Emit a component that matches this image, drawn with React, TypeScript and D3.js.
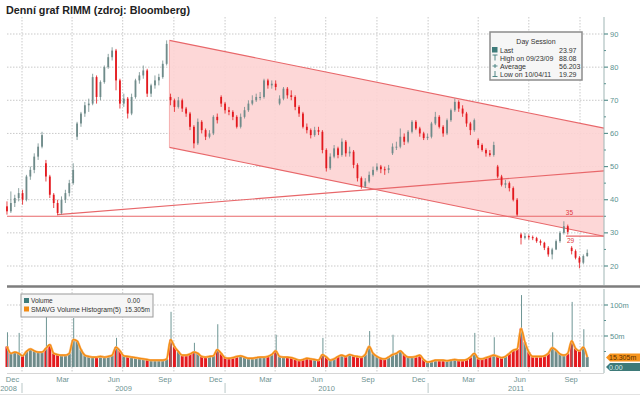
import * as d3 from "d3";

// weekly bars, first bar is the week ending 2008-12-05
const firstWeek = "2008-12-05";

const weekClose = [
  36.5, 39, 40.5, 42, 40, 47, 49, 53, 56, 59.5,
  47, 41.5, 39, 36, 40, 42, 45, 49, 63, 66,
  68.5, 69, 77, 71, 75.5, 80, 83, 85, 76, 69,
  70.5, 66, 71, 76, 77.5, 79, 72, 74.5, 76, 77,
  81, 87, 70, 68, 70, 67.5, 66, 62, 57, 63.5,
  61, 59, 60, 65, 64, 69, 67, 66.5, 65, 62,
  65, 67, 69, 70, 71, 71, 76, 74.5, 75, 74,
  70.5, 73.5, 71.5, 71, 68, 66, 62, 61, 59.5, 61,
  60.5, 55, 49.5, 53, 55.5, 53.5, 57.5, 54, 54.5, 50.5,
  46.5, 44, 45.5, 47.5, 49, 50, 49.2, 49, 49.5, 56,
  56, 59, 57.5, 60.5, 63.5, 61.5, 60, 58.6, 59, 63,
  65, 62, 60, 64, 67, 69.5, 67.5, 66, 63, 61,
  64, 56.5, 55, 54, 53.5, 56.5, 47, 44.5, 45, 43.5,
  40, 35.5, 28.5, 29, 28.7, 28.4, 27.5, 27, 25.5, 23.5,
  25, 27.5, 30, 32, 30.3, 24.5, 22.5, 21, 23, 23.97,
];

const weekHigh = [
  39.5, 42.5, 41.5, 43.5, 43, 47.5, 50, 54, 57, 60.5,
  52, 47.5, 42, 40, 41, 43, 46, 51, 63.5, 66.5,
  69.5, 70.5, 78, 77.5, 76, 80.5, 84, 86, 85.5, 76.5,
  72, 71, 72, 76.5, 78.5, 80.5, 79.5, 75, 77.5, 78,
  82, 88.08, 72, 70.5, 71, 70.5, 68, 66.5, 62.5, 64.5,
  64, 61.5, 61, 65.5, 66, 71.5, 69.5, 68, 67, 65.5,
  66, 68, 70, 71.5, 72, 72.5, 76.5, 76.5, 76, 76,
  71.5, 74, 74, 73, 71.5, 68.5, 66.5, 63, 61.5, 62,
  62, 61, 55.5, 54, 56.5, 56, 58.5, 58, 56, 55,
  51, 47, 46.5, 48.5, 50, 51, 50.5, 50, 50.5, 57,
  57.5, 61.5, 60, 61, 64, 64, 62, 60.5, 60, 63.5,
  66.5, 65.5, 62.5, 64.5, 67.5, 70.5, 70, 68.5, 66.5, 63.5,
  64.5, 58.5, 57, 55.5, 55, 57.5, 50.5, 47.5, 46, 45.5,
  44, 40.5, 30, 30, 29.5, 29.2, 28.8, 28, 27.3, 26,
  25.5, 28, 30.5, 33.5, 32.5, 26, 25, 23, 23.5, 25,
];

const weekLow = [
  35.5, 36, 37.8, 39.5, 38.5, 39.5, 46, 48, 52, 55.5,
  45.5, 40.5, 37.5, 35.3, 35.5, 39, 41, 44.5, 58, 62,
  65, 66.5, 68.5, 69, 70, 75, 79.5, 82, 73, 67.5,
  68, 64.5, 65.5, 70.5, 75, 76.5, 71, 71, 73.5, 74.5,
  76.5, 80.5, 68.5, 66.5, 67.5, 66.5, 65, 61, 55.5, 56.5,
  60, 58, 58.5, 59.5, 63, 68, 66, 65.5, 64, 61.5,
  61.5, 64.5, 66.5, 68.5, 69.5, 70, 70.5, 73.5, 73.5, 73,
  68.5, 70, 70.5, 70, 67, 65, 61.5, 60, 58.5, 59,
  59.5, 54, 48.5, 49, 52.5, 52.5, 53, 53, 53, 49.5,
  45.5, 43.3, 43.5, 45, 47, 48.5, 48, 47.5, 48, 53.5,
  55, 55.5, 56.5, 57, 60, 61, 59, 58, 58, 58.5,
  62.5, 61.5, 59, 59.5, 63.5, 66.5, 66.5, 65, 62, 59.5,
  60.5, 55.5, 54.5, 53, 53, 53, 46.5, 44, 43.5, 42.5,
  39.5, 35, 26.5, 28, 28, 27.8, 27, 26.2, 24.8, 22.8,
  22, 24.8, 27, 29.5, 29.5, 23.5, 22, 19.29, 20.5, 22.8,
];

// weeks that opened with a gap: [week index, open]
const gapOpens: [number, number][] = [
  [0, 38], [10, 51], [18, 59], [42, 71], [55, 71], [70, 69],
  [99, 54], [121, 58], [126, 50], [132, 29.5], [145, 25.5],
];

// volume, millions (weekly level)
const weekVolume = [
  33, 22, 24, 22, 18, 25, 29, 26, 24, 24,
  30, 36, 22, 20, 19, 19, 22, 44, 42, 28,
  19, 17, 16, 16, 17, 16, 17, 19, 32, 26,
  18, 17, 16, 15, 14, 13, 12, 11, 11, 11,
  11, 13, 44, 33, 25, 19, 19, 21, 24, 22,
  17, 16, 17, 18, 28, 22, 15, 14, 15, 17,
  18, 16, 14, 14, 15, 16, 16, 17, 20, 26,
  17, 16, 16, 15, 13, 11, 12, 14, 13, 12,
  11, 20, 16, 11, 13, 17, 19, 17, 20, 18,
  17, 16, 20, 33, 22, 17, 14, 13, 16, 20,
  22, 26, 20, 16, 16, 17, 19, 12, 8, 9,
  11, 11, 11, 10, 11, 12, 11, 11, 12, 16,
  22, 14, 13, 15, 17, 19, 17, 15, 17, 22,
  27, 29, 62, 40, 24, 17, 17, 17, 18, 22,
  31, 27, 21, 19, 22, 42, 30, 26, 32, 16,
];

// single-day volume spikes: [week index, millions]
const volumeSpikes: [number, number][] = [
  [0, 56], [3, 55], [10, 85], [17, 79], [28, 47], [42, 89], [48, 39],
  [54, 69], [69, 52], [81, 47], [93, 58], [99, 52], [120, 55], [125, 48],
  [132, 116], [140, 56], [145, 105], [148, 61],
];

const channelUpper: [string, number][] = [["2009-09-23", 88.08], ["2011-11-13", 61.6]];
const channelLower: [string, number][] = [["2009-09-23", 55.8], ["2011-11-13", 29]];
const supportLine: [string, number][] = [["2009-03-06", 35.5], ["2011-11-13", 48.7]];
const levelLines = [
  { value: 35, from: "2008-12-05", label: "35", labelAt: "2011-09-12", dy: -1.5 },
  { value: 29, from: "2011-09-06", label: "29", labelAt: "2011-09-14", dy: 6.5 },
];

const priceTicks = [20, 30, 40, 50, 60, 70, 80, 90];
const priceMinor = [25, 35, 45, 55, 65, 75, 85];
const volumeTicks = [50, 100];
const quarterLines = [
  "2009-01-01", "2009-04-01", "2009-07-01", "2009-10-01",
  "2010-01-01", "2010-04-01", "2010-07-01", "2010-10-01",
  "2011-01-01", "2011-04-01", "2011-07-01", "2011-10-01",
];
const monthLabels: [string, string][] = [
  ["2008-12-15", "Dec"], ["2009-03-15", "Mar"], ["2009-06-15", "Jun"], ["2009-09-15", "Sep"],
  ["2009-12-15", "Dec"], ["2010-03-15", "Mar"], ["2010-06-15", "Jun"], ["2010-09-15", "Sep"],
  ["2010-12-15", "Dec"], ["2011-03-15", "Mar"], ["2011-06-15", "Jun"], ["2011-09-15", "Sep"],
];
const yearStarts = ["2009-01-01", "2010-01-01", "2011-01-01"];
const yearLabels = ["2008", "2009", "2010", "2011"];

const sessionRows = [
  { icon: "square", label: "Last", value: "23.97" },
  { icon: "high", label: "High on 09/23/09", value: "88.08" },
  { icon: "avg", label: "Average", value: "56.203" },
  { icon: "low", label: "Low on 10/04/11", value: "19.29" },
];

const RED = "#e3191e";
const UP = "#6f8b8a";
const TEAL = "#3f7c7b";
const AXIS_TXT = "#5b9290";
const GRID = "#c9c9c9";
const FONT = "'Liberation Sans', Arial, sans-serif";

const parse = d3.timeParse("%Y-%m-%d");
const p = (s: string) => parse(s) as Date;

export default function App() {
  const left = 7;
  const right = 604;
  const x = d3.scaleTime().domain([p("2009-01-01"), p("2011-10-01")]).range([22, 580]);
  const y = d3.scaleLinear().domain([20, 90]).range([266, 34]);
  const yv = d3.scaleLinear().domain([0, 100]).range([367, 305]);

  const weeks = weekClose.map((close, i) => {
    const gap = gapOpens.find((g) => g[0] === i);
    const open = gap ? gap[1] : weekClose[i - 1];
    return {
      date: d3.timeDay.offset(p(firstWeek), 7 * i),
      open,
      close,
      high: weekHigh[i],
      low: weekLow[i],
      vol: weekVolume[i],
    };
  });

  const lineXY = (pts: [string, number][]) => pts.map(([d, v]) => [x(p(d)), y(v)] as [number, number]);
  const up = lineXY(channelUpper);
  const lo = lineXY(channelLower);
  const channelPoly = [up[0], up[1], lo[1], lo[0]].map((q) => q.join(",")).join(" ");
  const sup = lineXY(supportLine);

  const smaLine = d3
    .line<(typeof weeks)[number]>()
    .x((d) => x(d.date))
    .y((d) => yv(d.vol))
    .curve(d3.curveMonotoneX);

  const yearBounds = [left - 12, ...yearStarts.map((s) => x(p(s))), right];

  return (
    <svg
      width={640}
      height={395}
      style={{ position: "absolute", left: 0, top: 0, background: "#fff", fontFamily: FONT }}
    >
      <text x={6} y={14} fontSize={11} fontWeight="bold" fill="#222" textLength={184} lengthAdjust="spacingAndGlyphs">
        Denní graf RIMM (zdroj: Bloomberg)
      </text>

      {/* grid */}
      {priceTicks.map((t) => (
        <line key={"hg" + t} x1={left} x2={right} y1={y(t)} y2={y(t)} stroke={GRID} strokeDasharray="1.5,1.5" />
      ))}
      {volumeTicks.map((t) => (
        <line key={"vg" + t} x1={left} x2={right} y1={yv(t)} y2={yv(t)} stroke={GRID} strokeDasharray="1.5,1.5" />
      ))}
      {quarterLines.map((q) => (
        <g key={"q" + q}>
          <line x1={x(p(q))} x2={x(p(q))} y1={17} y2={285} stroke={GRID} strokeDasharray="1.5,1.5" />
          <line x1={x(p(q))} x2={x(p(q))} y1={289} y2={373} stroke={GRID} strokeDasharray="1.5,1.5" />
        </g>
      ))}

      {/* trend channel */}
      <polygon points={channelPoly} fill="#fdd3d3" fillOpacity={0.9} />
      <line x1={up[0][0]} y1={up[0][1]} x2={up[1][0]} y2={up[1][1]} stroke="#e8676a" strokeWidth={1.1} />
      <line x1={lo[0][0]} y1={lo[0][1]} x2={lo[1][0]} y2={lo[1][1]} stroke="#e8676a" strokeWidth={1.1} />
      <line x1={up[0][0]} y1={up[0][1]} x2={lo[0][0]} y2={lo[0][1]} stroke="#f2a0a0" strokeWidth={0.8} />
      <line x1={sup[0][0]} y1={sup[0][1]} x2={sup[1][0]} y2={sup[1][1]} stroke="#e8676a" strokeWidth={1.1} />
      {levelLines.map((l) => (
        <g key={"lv" + l.value}>
          <line x1={x(p(l.from))} x2={right} y1={y(l.value)} y2={y(l.value)} stroke="#e8676a" strokeWidth={1.1} />
          <text x={x(p(l.labelAt))} y={y(l.value) + l.dy} fontSize={6.5} fill="#e0383c" textAnchor="middle">
            {l.label}
          </text>
        </g>
      ))}

      {/* price bars */}
      {weeks.map((w, i) => {
        const cx = x(w.date);
        const col = w.close >= w.open ? UP : RED;
        const top = y(Math.max(w.open, w.close));
        const bot = y(Math.min(w.open, w.close));
        return (
          <g key={"b" + i}>
            <line x1={cx} x2={cx} y1={y(w.high)} y2={y(w.low)} stroke={col} strokeWidth={0.8} />
            <rect x={cx - 0.9} y={top} width={1.8} height={Math.max(1, bot - top)} fill={col} />
          </g>
        );
      })}

      {/* right price axis */}
      <line x1={right} x2={right} y1={17} y2={285} stroke="#9fb5b4" />
      {priceTicks.map((t) => (
        <g key={"pt" + t}>
          <line x1={right} x2={right + 4} y1={y(t)} y2={y(t)} stroke={AXIS_TXT} strokeWidth={1.2} />
          <text x={right + 6} y={y(t) + 2.5} fontSize={7.5} fill={AXIS_TXT}>
            {t}
          </text>
        </g>
      ))}
      {priceMinor.map((t) => (
        <line key={"pm" + t} x1={right} x2={right + 2} y1={y(t)} y2={y(t)} stroke={AXIS_TXT} />
      ))}

      {/* Day Session legend */}
      <g>
        <rect x={490} y={32} width={92} height={48} fill="#f6f6f6" stroke="#8c8c8c" strokeWidth={1.5} />
        <text x={536} y={44} fontSize={7} textAnchor="middle" fill="#333">
          Day Session
        </text>
        {sessionRows.map((r, i) => {
          const cy = 50 + i * 8;
          return (
            <g key={r.label}>
              {r.icon === "square" && <rect x={492} y={cy - 3} width={5.5} height={5.5} fill={TEAL} />}
              {r.icon === "high" && (
                <g stroke={TEAL} strokeWidth={0.9}>
                  <line x1={492.5} x2={497.5} y1={cy - 3} y2={cy - 3} />
                  <line x1={495} x2={495} y1={cy - 3} y2={cy + 2.5} />
                </g>
              )}
              {r.icon === "avg" && (
                <g stroke={TEAL} strokeWidth={0.9}>
                  <line x1={492.5} x2={497.5} y1={cy} y2={cy} />
                  <line x1={495} x2={495} y1={cy - 2} y2={cy + 2} />
                </g>
              )}
              {r.icon === "low" && (
                <g stroke={TEAL} strokeWidth={0.9}>
                  <line x1={492.5} x2={497.5} y1={cy + 2.5} y2={cy + 2.5} />
                  <line x1={495} x2={495} y1={cy - 3} y2={cy + 2.5} />
                </g>
              )}
              <text x={500} y={cy + 2.5} fontSize={7} fill="#333">
                {r.label}
              </text>
              <text x={559} y={cy + 2.5} fontSize={7} fill="#333">
                {r.value}
              </text>
            </g>
          );
        })}
      </g>

      {/* panel separator */}
      <line x1={left} x2={640} y1={286.5} y2={286.5} stroke="#7d7d7d" strokeWidth={2.5} />

      {/* volume */}
      {weeks.map((w, i) => (
        <rect
          key={"v" + i}
          x={x(w.date) - 1.5}
          y={yv(w.vol)}
          width={3}
          height={yv(0) - yv(w.vol)}
          fill={w.close >= w.open ? UP : RED}
        />
      ))}
      {volumeSpikes.map(([wi, v]) => (
        <line
          key={"s" + wi}
          x1={x(weeks[wi].date) + 0.5}
          x2={x(weeks[wi].date) + 0.5}
          y1={yv(v)}
          y2={yv(0)}
          stroke="#6e9695"
          strokeWidth={1}
        />
      ))}
      <path d={smaLine(weeks) ?? ""} fill="none" stroke="#fbb566" strokeWidth={2.4} />
      <path d={smaLine(weeks) ?? ""} fill="none" stroke="#f28a12" strokeWidth={1.2} />

      {/* volume legend */}
      <rect x={21} y={294} width={132} height={23} fill="#f6f6f6" stroke="#9a9a9a" strokeWidth={1} />
      <rect x={24} y={298} width={5} height={5} fill={TEAL} />
      <text x={31} y={303} fontSize={6.5} fill="#333">
        Volume
      </text>
      <text x={140} y={303} fontSize={6.5} fill="#333" textAnchor="end">
        0.00
      </text>
      <rect x={24} y={306.5} width={5} height={5} fill="#f28a12" />
      <text x={31} y={311.5} fontSize={6.5} fill="#333" textLength={90} lengthAdjust="spacingAndGlyphs">
        SMAVG Volume Histogram(5)
      </text>
      <text x={150} y={311.5} fontSize={6.5} fill="#333" textAnchor="end">
        15.305m
      </text>

      {/* right volume axis */}
      <line x1={right} x2={right} y1={289} y2={373} stroke="#9fb5b4" />
      {volumeTicks.map((t) => (
        <g key={"vt" + t}>
          <line x1={right} x2={right + 4} y1={yv(t)} y2={yv(t)} stroke={AXIS_TXT} strokeWidth={1.2} />
          <text x={right + 6} y={yv(t) + 2.5} fontSize={7.5} fill={AXIS_TXT}>
            {t}m
          </text>
        </g>
      ))}
      <line x1={right} x2={right + 2} y1={yv(25)} y2={yv(25)} stroke={AXIS_TXT} />
      <line x1={right} x2={right + 2} y1={yv(75)} y2={yv(75)} stroke={AXIS_TXT} />
      <path d={`M${right + 2},${yv(15.305)} l4,-4 h34 v8 h-34 z`} fill="#f7941d" />
      <text x={609} y={yv(15.305) + 2.5} fontSize={7} fill="#5a3000">
        15.305m
      </text>
      <path d={`M${right + 2},${yv(0)} l4,-4 h34 v8 h-34 z`} fill="#3e7a79" />
      <text x={609} y={yv(0) + 2.5} fontSize={7} fill="#d8eeee">
        0.00
      </text>

      {/* x axis */}
      <line x1={left} x2={right} y1={373.5} y2={373.5} stroke="#d6d6d6" />
      {monthLabels.map(([d, m]) => (
        <text key={"m" + d} x={x(p(d))} y={382} fontSize={7.5} fill="#6f9493" textAnchor="middle">
          {m}
        </text>
      ))}
      {yearStarts.map((s) => (
        <line key={"ys" + s} x1={x(p(s))} x2={x(p(s))} y1={383} y2={393} stroke="#b9c7c7" />
      ))}
      {yearLabels.map((yl, i) => (
        <text
          key={"y" + yl}
          x={(yearBounds[i] + yearBounds[i + 1]) / 2}
          y={391}
          fontSize={7.5}
          fill="#6f9493"
          textAnchor="middle"
        >
          {yl}
        </text>
      ))}
      <line x1={0} x2={640} y1={394.5} y2={394.5} stroke="#e2e2e2" />
    </svg>
  );
}
